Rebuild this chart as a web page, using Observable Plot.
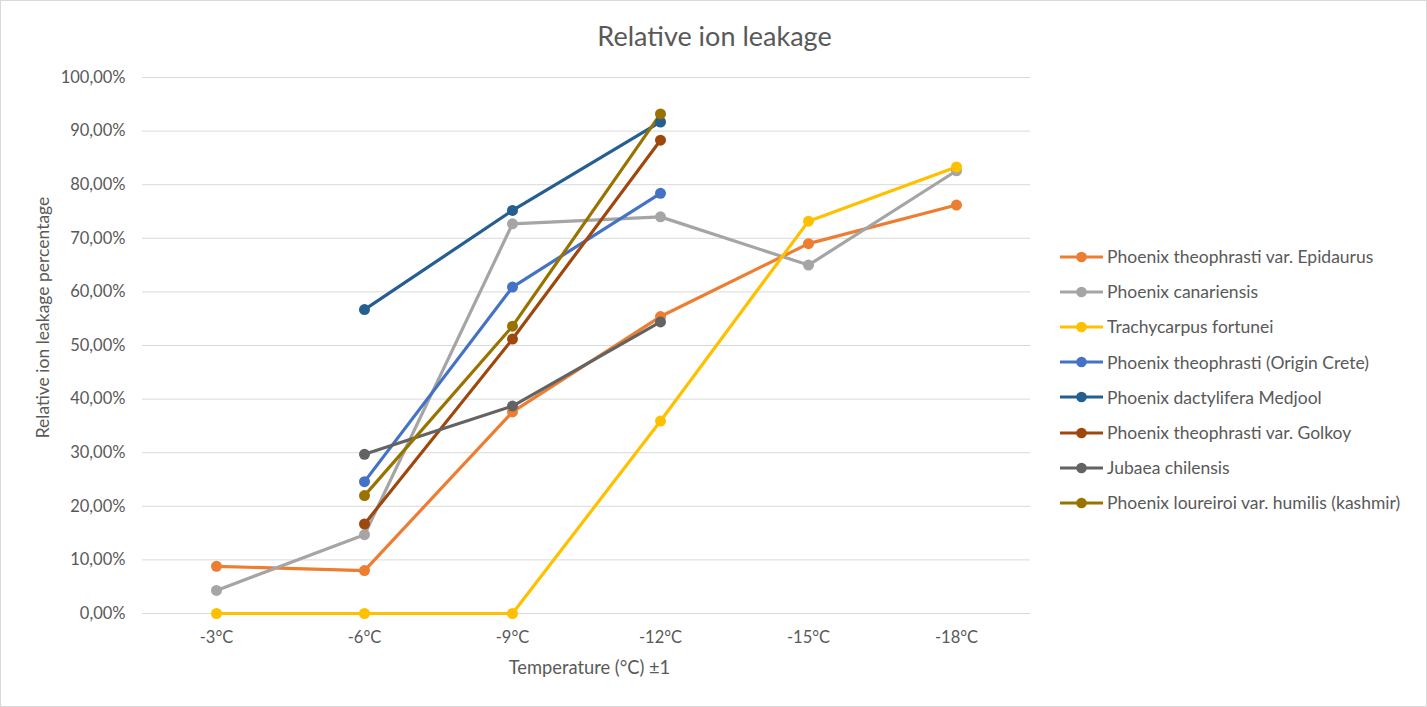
<!DOCTYPE html>
<html>
<head>
<meta charset="utf-8">
<script src="https://cdn.jsdelivr.net/npm/d3@7"></script>
<script src="https://cdn.jsdelivr.net/npm/@observablehq/plot@0.6"></script>
<style>
  html, body { margin: 0; padding: 0; background: #fff; }
  #wrap { position: relative; width: 1427px; height: 707px; }
  #wrap > svg { position: absolute; left: 0; top: 0; }
  #frame { position: absolute; left: 0; top: 0; width: 1425px; height: 705px; border: 1px solid #D9D9D9; pointer-events: none; }
  #legend { position: absolute; left: 1060px; top: 239px; font-family: Lato, sans-serif; font-size: 17.5px; color: #595959; }
  #legend .item { height: 35.2px; display: flex; align-items: center; white-space: nowrap; }
  #legend .item svg { position: static; margin-right: 4px; flex: none; }
</style>
</head>
<body>
<div id="wrap"><div id="legend"></div><div id="frame"></div></div>
<script>
const temps = ["-3°C", "-6°C", "-9°C", "-12°C", "-15°C", "-18°C"];
const seriesNames = [
  "Phoenix theophrasti var. Epidaurus",
  "Phoenix canariensis",
  "Trachycarpus fortunei",
  "Phoenix theophrasti (Origin Crete)",
  "Phoenix dactylifera Medjool",
  "Phoenix theophrasti var. Golkoy",
  "Jubaea chilensis",
  "Phoenix loureiroi var. humilis (kashmir)"
];
const seriesColors = ["#ED7D31", "#A5A5A5", "#FFC000", "#4472C4", "#255E91", "#9E480E", "#636363", "#997300"];
// values in percent, null = no measurement
const epidaurus   = [8.8, 8.0, 37.6, 55.4, 69.0, 76.2];
const canariensis = [4.3, 14.7, 72.7, 74.0, 65.0, 82.6];
const trachycarpus = [0, 0, 0, 35.9, 73.2, 83.3];
const crete       = [null, 24.6, 60.9, 78.4, null, null];
const medjool     = [null, 56.7, 75.2, 91.7, null, null];
const golkoy      = [null, 16.7, 51.2, 88.3, null, null];
const jubaea      = [null, 29.7, 38.7, 54.4, null, null];
const kashmir     = [null, 22.0, 53.6, 93.2, null, null];
const yTicks = [0, 10, 20, 30, 40, 50, 60, 70, 80, 90, 100];

const seriesValues = [epidaurus, canariensis, trachycarpus, crete, medjool, golkoy, jubaea, kashmir];
const rows = [];
seriesValues.forEach((vals, si) => {
  vals.forEach((v, ti) => {
    if (v !== null) rows.push({series: seriesNames[si], temp: temps[ti], value: v});
  });
});

const fmt = d => d.toFixed(2).replace(".", ",") + "%";

const chart = Plot.plot({
  width: 1427,
  height: 707,
  marginLeft: 142,
  marginRight: 397,
  marginTop: 77,
  marginBottom: 94,
  style: {fontFamily: "Lato, sans-serif", fontSize: "16.5px", color: "#595959", background: "transparent", overflow: "visible"},
  x: {type: "point", domain: temps, padding: 0.5, label: null},
  y: {domain: [0, 100], label: null},
  color: {domain: seriesNames, range: seriesColors},
  marks: [
    Plot.gridY(yTicks, {stroke: "#D9D9D9", strokeOpacity: 1, strokeWidth: 1}),
    Plot.axisY(yTicks, {tickSize: 0, tickPadding: 17, tickFormat: fmt, fill: "#595959", label: null}),
    Plot.axisX({tickSize: 0, tickPadding: 18, fill: "#595959", label: null}),
    Plot.text(["Relative ion leakage percentage"], {frameAnchor: "left", rotate: -90, textAnchor: "middle", lineAnchor: "middle", dx: -99, dy: -28, fill: "#595959", fontSize: 17.5}),
    Plot.text(["Temperature (°C) ±1"], {frameAnchor: "bottom", lineAnchor: "middle", dx: 3, dy: 55, fill: "#595959", fontSize: 18.3}),
    Plot.text(["Relative ion leakage"], {frameAnchor: "top", lineAnchor: "middle", dx: 128, dy: -40, fill: "#595959", fontSize: 27}),
    Plot.line(rows, {x: "temp", y: "value", z: "series", stroke: "series", strokeWidth: 3.2, strokeLinecap: "round", strokeLinejoin: "round"}),
    Plot.dot(rows, {x: "temp", y: "value", fill: "series", r: 5.5})
  ]
});
document.getElementById("wrap").prepend(chart);

const legend = document.getElementById("legend");
seriesNames.forEach((name, i) => {
  const item = document.createElement("div");
  item.className = "item";
  item.innerHTML = `<svg width="43" height="12"><line x1="0" y1="6" x2="43" y2="6" stroke="${seriesColors[i]}" stroke-width="3.2"/><circle cx="21.5" cy="6" r="5.3" fill="${seriesColors[i]}"/></svg><span>${name}</span>`;
  legend.appendChild(item);
});
</script>
</body>
</html>
